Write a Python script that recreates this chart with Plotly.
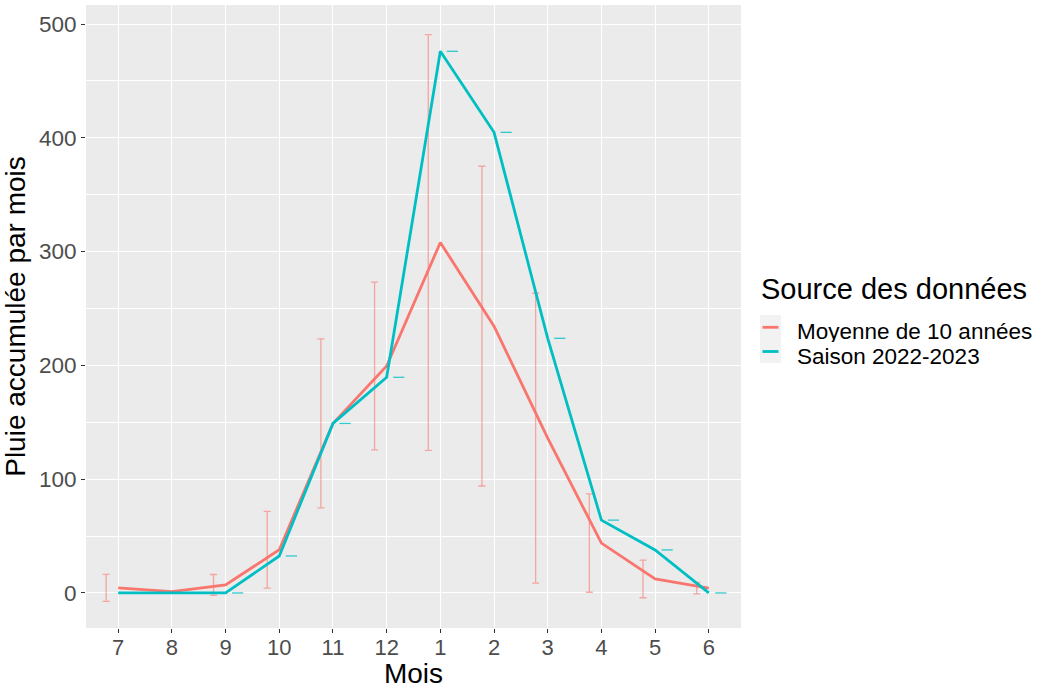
import plotly.graph_objects as go

# ---- data ----
mois = ["7", "8", "9", "10", "11", "12", "1", "2", "3", "4", "5", "6"]
moyenne_10ans = [4.5, 1.2, 7, 38, 149, 199.5, 308, 234.5, 136, 43.8, 12.3, 4.2]
ecart_type_10ans = [11.9, 0.6, 9.2, 33.7, 74.3, 73.7, 182.7, 140.5, 127.4, 43.2, 16.5, 5.0]
saison_2022_2023 = [0, 0, 0, 32.5, 149, 189.5, 476, 404.8, 223.8, 64, 37.8, 0]
series_names = ["Moyenne de 10 années", "Saison 2022-2023"]

RED = "#F8766D"
TEAL = "#00BFC4"
FONT = "Liberation Sans, Arial, sans-serif"
DODGE = 0.225

idx = list(range(len(mois)))

fig = go.Figure()

# error bars (dodged)
fig.add_trace(go.Scatter(
    x=[i - DODGE for i in idx], y=moyenne_10ans, mode="markers",
    marker=dict(size=1, color="rgba(0,0,0,0)"),
    error_y=dict(type="data", array=ecart_type_10ans, symmetric=True,
                 color="rgba(248,118,109,0.6)", thickness=1.3, width=3.5),
    showlegend=False, hoverinfo="skip"))
fig.add_trace(go.Scatter(
    x=[i + DODGE for i in idx], y=saison_2022_2023, mode="markers",
    marker=dict(symbol="line-ew", size=8, color="rgba(0,191,196,0.8)",
                line=dict(color="rgba(0,191,196,0.8)", width=1.3)),
    showlegend=False, hoverinfo="skip"))

# lines
fig.add_trace(go.Scatter(x=idx, y=moyenne_10ans, mode="lines", name=series_names[0],
                         line=dict(color=RED, width=2.8), showlegend=False))
fig.add_trace(go.Scatter(x=idx, y=saison_2022_2023, mode="lines", name=series_names[1],
                         line=dict(color=TEAL, width=2.8), showlegend=False))

# plot area in pixels: x 86..741, y 5..628
L, R, T, B = 86, 741, 5, 628
W, H = 1045, 689
def px(x):
    return (x - L) / (R - L)
def py(y):
    return (B - y) / (B - T)

shapes = [
    dict(type="rect", xref="paper", yref="paper", x0=px(760), x1=px(781), y0=py(363), y1=py(315),
         fillcolor="#F2F2F2", line=dict(width=0), layer="below"),
    dict(type="line", xref="paper", yref="paper", x0=px(762.5), x1=px(778.5), y0=py(327.3), y1=py(327.3),
         line=dict(color=RED, width=2.8)),
    dict(type="line", xref="paper", yref="paper", x0=px(762.5), x1=px(778.5), y0=py(351.5), y1=py(351.5),
         line=dict(color=TEAL, width=2.8)),
]
annotations = [
    dict(text="Source des données", xref="paper", yref="paper", x=px(759), y=py(289),
         xanchor="left", yanchor="middle", showarrow=False, font=dict(family=FONT, size=29, color="black")),
    dict(text=series_names[0], xref="paper", yref="paper", x=px(795), y=py(330.5), height=22,
         xanchor="left", yanchor="middle", showarrow=False, font=dict(family=FONT, size=22.5, color="black")),
    dict(text=series_names[1], xref="paper", yref="paper", x=px(795), y=py(355.5), height=22,
         xanchor="left", yanchor="middle", showarrow=False, font=dict(family=FONT, size=22.5, color="black")),
]

fig.update_layout(
    width=W, height=H,
    margin=dict(l=L, r=W - R, t=T, b=H - B, autoexpand=False),
    paper_bgcolor="white", plot_bgcolor="#EBEBEB",
    font=dict(family=FONT, color="black"),
    shapes=shapes, annotations=annotations,
    showlegend=False,
)
fig.update_xaxes(
    range=[-0.6, 11.6], tickmode="array", tickvals=idx, ticktext=mois,
    showgrid=True, gridcolor="white", gridwidth=1.1, zeroline=False,
    ticks="outside", ticklen=4, tickcolor="#333333", tickwidth=1,
    ticklabelstandoff=-4,
    tickfont=dict(family=FONT, size=22, color="#4D4D4D"),
    title=dict(text="Mois", font=dict(family=FONT, size=28, color="black"), standoff=4),
    showline=False,
)
fig.update_yaxes(
    range=[-30.8, 516.7], tick0=0, dtick=100,
    showgrid=True, gridcolor="white", gridwidth=1.1, zeroline=False,
    minor=dict(dtick=50, tick0=0, showgrid=True, gridcolor="white", gridwidth=0.5),
    ticks="outside", ticklen=4, tickcolor="#333333", tickwidth=1,
    tickfont=dict(family=FONT, size=22.5, color="#4D4D4D"),
    title=dict(text="Pluie accumulée par mois", font=dict(family=FONT, size=28, color="black"), standoff=6),
    showline=False,
)

fig.write_html("out.html")
